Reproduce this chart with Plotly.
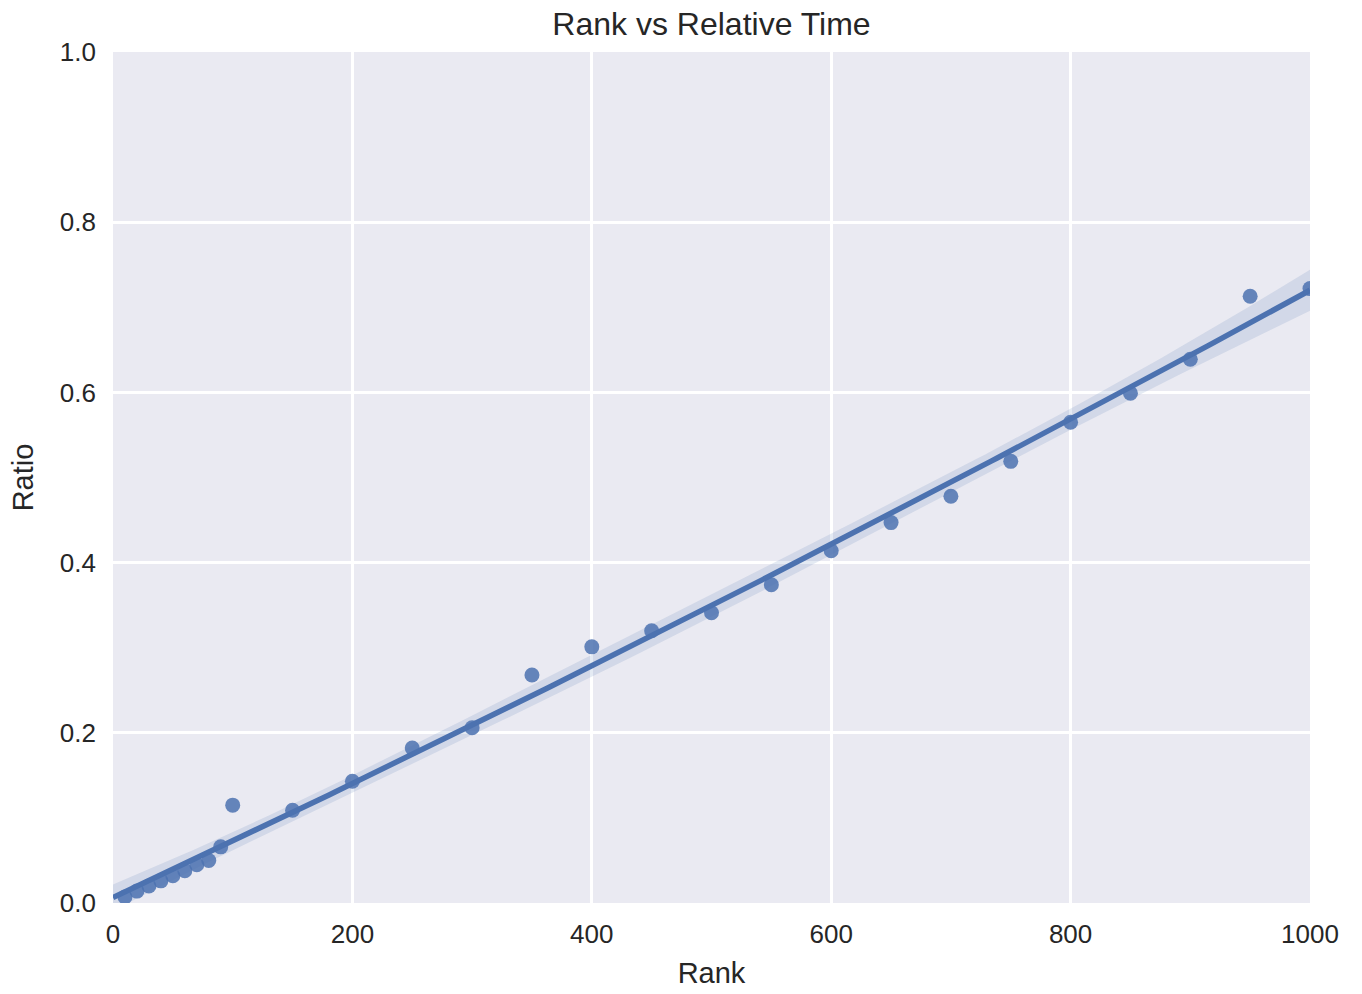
import numpy as np
import plotly.graph_objects as go

rank = [10, 20, 30, 40, 50, 60, 70, 80, 90, 100,
        150, 200, 250, 300, 350, 400, 450, 500, 550, 600,
        650, 700, 750, 800, 850, 900, 950, 1000]
ratio = [0.007, 0.014, 0.020, 0.026, 0.032, 0.038, 0.045, 0.050, 0.066, 0.115,
         0.109, 0.143, 0.182, 0.206, 0.268, 0.301, 0.320, 0.341, 0.374, 0.414,
         0.447, 0.478, 0.519, 0.565, 0.599, 0.639, 0.713, 0.722]

x = np.array(rank, dtype=float)
y = np.array(ratio, dtype=float)

# second-order regression fit with confidence band
X = np.vstack([np.ones_like(x), x, x ** 2]).T
beta, *_ = np.linalg.lstsq(X, y, rcond=None)
resid = y - X @ beta
dof = len(x) - 3
s2 = resid @ resid / dof
cov = s2 * np.linalg.inv(X.T @ X)
xg = np.linspace(0, 1000, 200)
Xg = np.vstack([np.ones_like(xg), xg, xg ** 2]).T
yg = Xg @ beta
se = np.sqrt(np.einsum("ij,jk,ik->i", Xg, cov, Xg))
tval = 2.8
lo = yg - tval * se
hi = yg + tval * se

blue = "#4C72B0"
font = "Liberation Sans, Arial, Helvetica, sans-serif"
txt = "#262626"

fig = go.Figure()
fig.add_trace(go.Scatter(x=np.concatenate([xg, xg[::-1]]),
                         y=np.concatenate([hi, lo[::-1]]),
                         fill="toself", fillcolor="rgba(76,114,176,0.15)",
                         line=dict(width=0), hoverinfo="skip", showlegend=False))
fig.add_trace(go.Scatter(x=x, y=y, mode="markers",
                         marker=dict(color=blue, size=15, opacity=0.85, line=dict(width=0)),
                         showlegend=False))
fig.add_trace(go.Scatter(x=xg, y=yg, mode="lines",
                         line=dict(color=blue, width=5.5), showlegend=False))

fig.update_layout(
    width=1362, height=994,
    paper_bgcolor="white", plot_bgcolor="#EAEAF2",
    margin=dict(l=113, r=52, t=52, b=91),
    title=dict(text="Rank vs Relative Time", xref="paper", x=0.5, xanchor="center",
               y=0.976, yanchor="middle",
               font=dict(family=font, size=32, color=txt)),
    font=dict(family=font, color=txt),
)
fig.update_xaxes(range=[0, 1000], tickvals=[0, 200, 400, 600, 800, 1000],
                 showgrid=True, gridcolor="white", gridwidth=2.5,
                 zeroline=False, showline=False, ticks="",
                 ticklabelstandoff=13,
                 tickfont=dict(size=26, color=txt),
                 title=dict(text="Rank", font=dict(size=29, color=txt), standoff=14))
fig.update_yaxes(range=[0, 1], tickvals=[0, 0.2, 0.4, 0.6, 0.8, 1.0],
                 ticktext=["0.0", "0.2", "0.4", "0.6", "0.8", "1.0"],
                 showgrid=True, gridcolor="white", gridwidth=2.5,
                 zeroline=False, showline=False, ticks="",
                 ticklabelstandoff=16,
                 tickfont=dict(size=26, color=txt),
                 title=dict(text="Ratio", font=dict(size=29, color=txt), standoff=17))

fig.write_html("out.html")
